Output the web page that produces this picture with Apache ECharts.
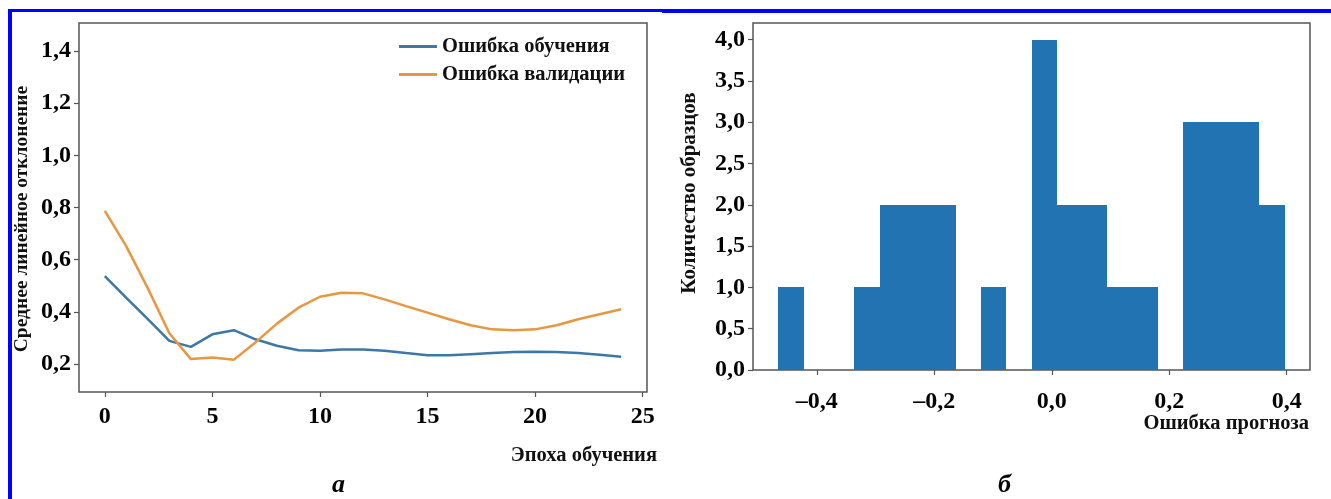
<!DOCTYPE html>
<html>
<head>
<meta charset="utf-8">
<script src="https://cdn.jsdelivr.net/npm/echarts@6/dist/echarts.min.js"></script>
<style>
html,body{margin:0;padding:0;background:#fff;}
#chart{position:absolute;left:0;top:0;width:1331px;height:499px;}
#frameL{position:absolute;left:8px;top:9px;width:654px;height:490px;border-left:4px solid #0000ff;border-top:3px solid #0000ff;box-sizing:border-box;pointer-events:none;}
#frameR{position:absolute;left:662px;top:9px;width:669px;height:4px;background:#0000ff;pointer-events:none;}
</style>
</head>
<body>
<div id="chart"></div>
<div id="frameL"></div>
<div id="frameR"></div>
<script>
// ---- data: panel a ----
const epochs = [0,1,2,3,4,5,6,7,8,9,10,11,12,13,14,15,16,17,18,19,20,21,22,23,24];
const trainErr = [0.537,0.454,0.372,0.289,0.266,0.314,0.330,0.295,0.270,0.253,0.251,0.256,0.256,0.251,0.242,0.234,0.234,0.238,0.242,0.246,0.247,0.246,0.242,0.236,0.228];
const valErr = [0.787,0.651,0.490,0.318,0.219,0.225,0.217,0.283,0.355,0.416,0.458,0.473,0.471,0.448,0.422,0.397,0.372,0.349,0.333,0.330,0.333,0.349,0.372,0.391,0.410];
const seriesNames = ['Ошибка обучения', 'Ошибка валидации'];
const xTicksA = [0,5,10,15,20,25];
const yTicksA = [0.2,0.4,0.6,0.8,1.0,1.2,1.4];

// ---- data: panel б (histogram, 20 bins) ----
const binEdges = [-0.4655,-0.4224,-0.3793,-0.3362,-0.2931,-0.2500,-0.2069,-0.1638,-0.1207,-0.0776,-0.0345,0.0086,0.0517,0.0948,0.1379,0.1810,0.2241,0.2672,0.3103,0.3534,0.3965];
const binCounts = [1,0,0,1,2,2,2,0,1,0,4,2,2,1,1,0,3,3,3,2];
const xTicksB = [-0.4,-0.2,0.0,0.2,0.4];
const yTicksB = [0,0.5,1.0,1.5,2.0,2.5,3.0,3.5,4.0];

const FONT = '"Liberation Serif", "DejaVu Serif", serif';
const frameColor = '#555555';
const fmt = v => (v < -1e-9 ? '–' : '') + Math.abs(v).toFixed(1).replace('.', ',');

const histData = binCounts.map((c, i) => [binEdges[i], binEdges[i + 1], c]);

const axisCommon = {
  axisLine: { show: false, onZero: false },
  splitLine: { show: false },
  axisTick: { show: true, inside: false, length: 5, lineStyle: { color: frameColor, width: 1.2 } },
  axisLabel: { color: '#000', fontFamily: FONT, fontWeight: 'bold', fontSize: 24 }
};

const chart = echarts.init(document.getElementById('chart'), null, { renderer: 'canvas' });
chart.setOption({
  animation: false,
  backgroundColor: 'transparent',
  grid: [
    { left: 79, top: 23, width: 568, height: 369, show: true, borderColor: frameColor, borderWidth: 1.5, backgroundColor: 'transparent' },
    { left: 753, top: 23, width: 557, height: 347, show: true, borderColor: frameColor, borderWidth: 1.5, backgroundColor: 'transparent' }
  ],
  legend: {
    data: seriesNames,
    orient: 'vertical',
    left: 394,
    top: 31,
    icon: 'rect',
    itemWidth: 38,
    itemHeight: 3,
    itemGap: 7,
    textStyle: { fontFamily: FONT, fontWeight: 'bold', fontSize: 20.5, color: '#111' }
  },
  xAxis: [
    Object.assign({}, axisCommon, {
      gridIndex: 0, type: 'value', min: -1.2, max: 25.2,
      axisTick: Object.assign({}, axisCommon.axisTick, { customValues: xTicksA }),
      axisLabel: Object.assign({}, axisCommon.axisLabel, { customValues: xTicksA, margin: 13, formatter: v => String(v) })
    }),
    Object.assign({}, axisCommon, {
      gridIndex: 1, type: 'value', min: -0.5086, max: 0.4396,
      axisTick: Object.assign({}, axisCommon.axisTick, { customValues: xTicksB }),
      axisLabel: Object.assign({}, axisCommon.axisLabel, { customValues: xTicksB, margin: 20, formatter: fmt })
    })
  ],
  yAxis: [
    Object.assign({}, axisCommon, {
      gridIndex: 0, type: 'value', min: 0.093, max: 1.507,
      axisTick: Object.assign({}, axisCommon.axisTick, { customValues: yTicksA }),
      axisLabel: Object.assign({}, axisCommon.axisLabel, { customValues: yTicksA, margin: 8, formatter: fmt })
    }),
    Object.assign({}, axisCommon, {
      gridIndex: 1, type: 'value', min: 0, max: 4.2,
      axisTick: Object.assign({}, axisCommon.axisTick, { customValues: yTicksB }),
      axisLabel: Object.assign({}, axisCommon.axisLabel, { customValues: yTicksB, margin: 8, formatter: fmt })
    })
  ],
  graphic: [
    { type: 'text', x: 22, y: 219, rotation: Math.PI / 2, style: { text: 'Среднее линейное отклонение', font: 'bold 19.5px ' + FONT, fill: '#111', align: 'center', verticalAlign: 'middle' } },
    { type: 'text', x: 690, y: 193, rotation: Math.PI / 2, style: { text: 'Количество образцов', font: 'bold 21px ' + FONT, fill: '#111', align: 'center', verticalAlign: 'middle' } },
    { type: 'text', right: 1331 - 657, top: 445, style: { text: 'Эпоха обучения', font: 'bold 20.5px ' + FONT, fill: '#111' } },
    { type: 'text', right: 1331 - 1309, top: 413, style: { text: 'Ошибка прогноза', font: 'bold 20.5px ' + FONT, fill: '#111' } },
    { type: 'text', left: 332, top: 472, style: { text: 'а', font: 'italic bold 26px ' + FONT, fill: '#000' } },
    { type: 'text', left: 998, top: 472, style: { text: 'б', font: 'italic bold 26px ' + FONT, fill: '#000' } }
  ],
  series: [
    {
      name: seriesNames[0], type: 'line', xAxisIndex: 0, yAxisIndex: 0,
      data: epochs.map((e, i) => [e, trainErr[i]]),
      symbol: 'none', lineStyle: { color: '#3b78a8', width: 2.5 }, itemStyle: { color: '#3b78a8' }
    },
    {
      name: seriesNames[1], type: 'line', xAxisIndex: 0, yAxisIndex: 0,
      data: epochs.map((e, i) => [e, valErr[i]]),
      symbol: 'none', lineStyle: { color: '#e8963f', width: 2.5 }, itemStyle: { color: '#e8963f' }
    },
    {
      type: 'custom', xAxisIndex: 1, yAxisIndex: 1,
      data: histData,
      encode: { x: [0, 1], y: 2 },
      renderItem: function (params, api) {
        if (!(api.value(2) > 0)) return null;
        const p0 = api.coord([api.value(0), api.value(2)]);
        const p1 = api.coord([api.value(1), 0]);
        const x0 = Math.round(p0[0]), x1 = Math.round(p1[0]);
        const y0 = Math.round(p0[1]), y1 = Math.round(p1[1]);
        return {
          type: 'rect',
          shape: { x: x0, y: y0, width: x1 - x0, height: y1 - y0 },
          style: { fill: '#2273b1', stroke: null, lineWidth: 0 }
        };
      }
    }
  ]
});
</script>
</body>
</html>
